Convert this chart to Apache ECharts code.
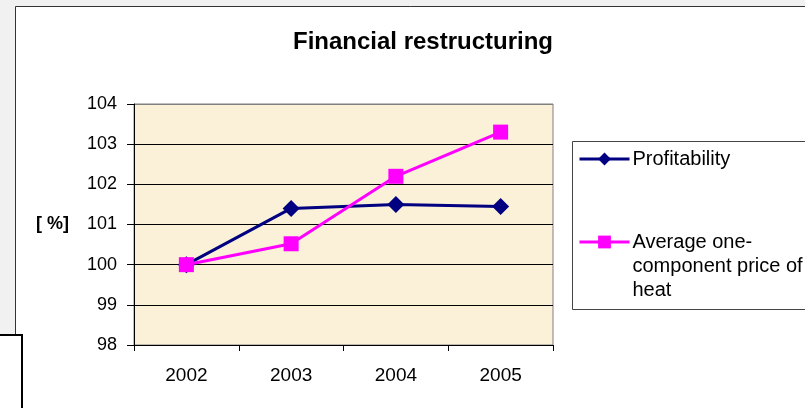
<!DOCTYPE html>
<html>
<head>
<meta charset="utf-8">
<script src="https://cdn.jsdelivr.net/npm/echarts@6/dist/echarts.min.js"></script>
<style>html,body{margin:0;padding:0;background:#fff;}#c{width:805px;height:408px;}</style>
</head>
<body>
<div id="c"></div>
<script>
var categories = ['2002', '2003', '2004', '2005'];
var profitability = [100, 101.4, 101.5, 101.45];
var avgPrice = [100, 100.52, 102.2, 103.3];
var yTicks = { min: 98, max: 104, interval: 1 };
var titleText = 'Financial restructuring';
var yName = '[ %]';
var names = ['Profitability', 'Average one-component price of heat'];

var chart = echarts.init(document.getElementById('c'), null, { renderer: 'canvas' });
var font = 'Arial, "Liberation Sans", sans-serif';
var option = {
  backgroundColor: '#f1f1f1',
  animation: false,
  title: {
    text: titleText, left: 418, top: 25, textAlign: 'center',
    textStyle: { fontFamily: font, fontSize: 24, fontWeight: 'bold', color: '#000' }
  },
  graphic: [
    { type: 'rect', z: -10, shape: { x: 15.5, y: 6.5, width: 800, height: 410 }, style: { fill: '#fff', stroke: '#333', lineWidth: 1 } },
    { type: 'rect', z: 5, shape: { x: -2, y: 335, width: 24, height: 80 }, style: { fill: '#fff', stroke: '#000', lineWidth: 2 } },
    { type: 'rect', z: 1, shape: { x: 572.5, y: 141.5, width: 240, height: 168 }, style: { fill: '#fff', stroke: '#444', lineWidth: 1 } },
    { type: 'text', z: 5, left: 36, top: 215, style: { text: yName, font: 'bold 18px ' + font, fill: '#000' } }
  ],
  legend: [
    {
      data: [names[0]], left: 578, top: 149, orient: 'vertical', padding: 0, z: 3,
      itemWidth: 50, itemHeight: 16, itemGap: 0,
      lineStyle: { width: 3 },
      textStyle: { fontFamily: font, fontSize: 20, color: '#000', padding: [0, 0, 0, -2] }
    },
    {
      data: [names[1]], left: 578, top: 182, orient: 'vertical', padding: 0, z: 3,
      itemWidth: 50, itemHeight: 16, itemGap: 0,
      lineStyle: { width: 3 },
      formatter: function () { return '\n\nAverage one-\ncomponent price of\nheat'; },
      textStyle: { fontFamily: font, fontSize: 20, lineHeight: 24, color: '#000', padding: [0, 0, 0, -2] }
    }
  ],
  grid: {
    left: 134, right: 252, top: 104, bottom: 63, show: true,
    backgroundColor: '#fbf0d8', borderColor: '#808080', borderWidth: 1
  },
  xAxis: {
    type: 'category', data: categories, boundaryGap: true,
    axisLine: { lineStyle: { color: '#000', width: 1 } },
    axisTick: { show: true, length: 6, alignWithLabel: false, lineStyle: { color: '#000' } },
    axisLabel: { fontFamily: font, fontSize: 19, color: '#000', margin: 21 },
    splitLine: { show: false }
  },
  yAxis: {
    type: 'value', min: yTicks.min, max: yTicks.max, interval: yTicks.interval,
    axisLine: { show: true, lineStyle: { color: '#000', width: 1 } },
    axisTick: { show: true, length: 7, lineStyle: { color: '#000' } },
    axisLabel: { fontFamily: font, fontSize: 18, color: '#000', margin: 17 },
    splitLine: { show: true, lineStyle: { color: ['#000', '#000', '#000', '#000', '#000', '#000', '#808080'], width: 1 } }
  },
  series: [
    {
      name: names[0], type: 'line', data: profitability,
      symbol: 'diamond', symbolSize: 17, z: 3,
      lineStyle: { color: '#000080', width: 3 }, itemStyle: { color: '#000080' }
    },
    {
      name: names[1], type: 'line', data: avgPrice,
      symbol: 'rect', symbolSize: 15, z: 4,
      lineStyle: { color: '#ff00ff', width: 3 }, itemStyle: { color: '#ff00ff' }
    }
  ]
};
chart.setOption(option);
</script>
</body>
</html>
